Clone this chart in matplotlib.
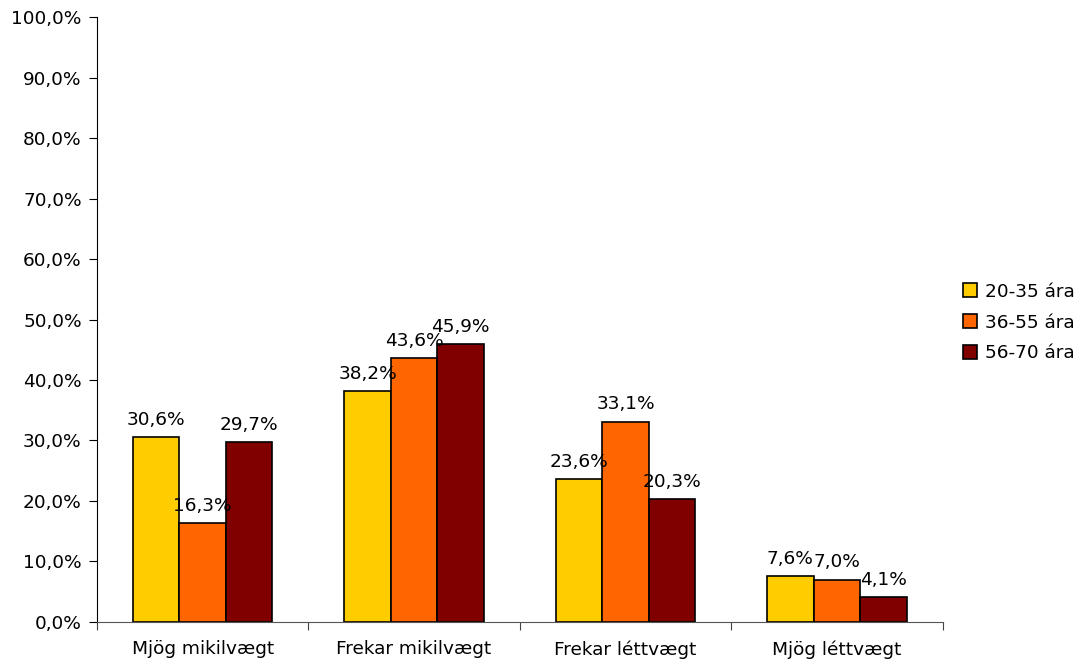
import matplotlib.pyplot as plt
import numpy as np

# Data
categories = ["Mjög mikilvægt", "Frekar mikilvægt", "Frekar léttvægt", "Mjög léttvægt"]
groups = ["20-35 ára", "36-55 ára", "56-70 ára"]
values_20_35 = [30.6, 38.2, 23.6, 7.6]
values_36_55 = [16.3, 43.6, 33.1, 7.0]
values_56_70 = [29.7, 45.9, 20.3, 4.1]
colors = ["#FFCC00", "#FF6600", "#800000"]

plt.rcParams['font.family'] = ['DejaVu Sans']
fs = 13.3

fig = plt.figure(figsize=(10.8, 6.64), dpi=100)
ax = fig.add_axes([0.0898, 0.0633, 0.783, 0.911])

x = np.arange(len(categories))
width = 0.22
series = [values_20_35, values_36_55, values_56_70]
for i, (vals, col, name) in enumerate(zip(series, colors, groups)):
    pos = x + (i - 1) * width
    bars = ax.bar(pos, vals, width, color=col, edgecolor="black", linewidth=1.2, label=name)
    for b, v in zip(bars, vals):
        ax.annotate(f"{v:.1f}%".replace(".", ","),
                    (b.get_x() + b.get_width() / 2, v),
                    xytext=(0, 6), textcoords="offset points",
                    ha="center", va="bottom", fontsize=fs)

ax.set_xlim(-0.5, len(categories) - 0.5)
ax.set_ylim(0, 100)
ax.set_yticks(np.arange(0, 101, 10))
ax.set_yticklabels([f"{t:.1f}%".replace(".", ",") for t in range(0, 101, 10)], fontsize=fs)

# category labels centered, tick marks between categories
ax.set_xticks(np.arange(-0.5, len(categories), 1.0))
ax.set_xticklabels([])
ax.set_xticks(x, minor=True)
ax.set_xticklabels(categories, minor=True, fontsize=fs)
ax.tick_params(axis="x", which="minor", length=0, pad=13)
ax.tick_params(axis="x", which="major", length=6, direction="out", color="#444444")
ax.tick_params(axis="y", length=6, direction="out", pad=5)

for s in ["top", "right"]:
    ax.spines[s].set_visible(False)
ax.spines["bottom"].set_color("#555555")

ax.legend(loc="center left", bbox_to_anchor=(1.005, 0.495), frameon=False,
          fontsize=fs, handlelength=0.75, handleheight=0.75, handletextpad=0.4,
          labelspacing=0.7)

fig.savefig("out.png", dpi=100)
